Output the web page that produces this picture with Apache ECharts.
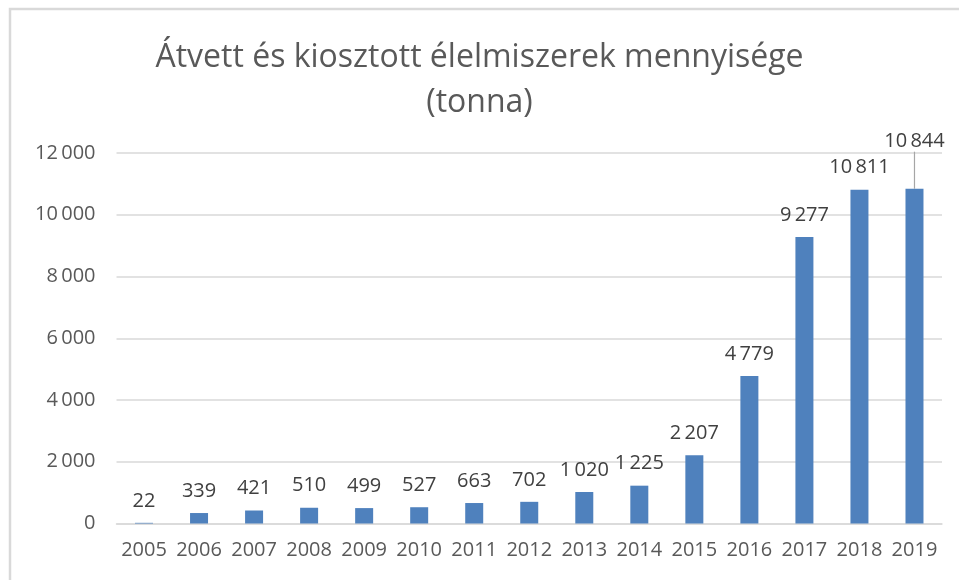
<!DOCTYPE html>
<html><head><meta charset="utf-8">
<script src="https://cdn.jsdelivr.net/npm/echarts@6/dist/echarts.min.js"></script>
<style>html,body{margin:0;padding:0;background:#fff}#c{width:959px;height:580px}</style>
</head><body><div id="c"></div>
<script>
const categories = ['2005','2006','2007','2008','2009','2010','2011','2012','2013','2014','2015','2016','2017','2018','2019'];
const values = [22,339,421,510,499,527,663,702,1020,1225,2207,4779,9277,10811,10844];
const titleLines = ['Átvett és kiosztott élelmiszerek mennyisége','(tonna)'];

const fmt = v => String(v).replace(/\B(?=(\d{3})+(?!\d))/g, '\u2009');
const FONT = 'Open Sans';
const chart = echarts.init(document.getElementById('c'));
const data = values.map((v,i) => {
  if (i === values.length - 1) {
    return { value: v, labelLine: { show: true, lineStyle: { color: '#a6a6a6', width: 1.2 } } };
  }
  return v;
});
chart.setOption({
  animation: false,
  textStyle: { fontFamily: FONT },
  graphic: [{ type: 'rect', shape: { x: 10, y: 9, width: 1000, height: 1000 }, style: { fill: 'none', stroke: '#d9d9d9', lineWidth: 2.5 }, silent: true }],
  title: {
    text: titleLines.join('\n'), left: 'center', top: 30,
    textStyle: { fontFamily: FONT, fontSize: 32, fontWeight: 'normal', color: '#595959', lineHeight: 45 }
  },
  grid: { left: 116.5, right: 17, top: 153, bottom: 56.5, containLabel: false },
  xAxis: {
    type: 'category', data: categories,
    axisTick: { show: false },
    axisLine: { lineStyle: { color: '#d9d9d9', width: 1.5 } },
    axisLabel: { color: '#595959', fontSize: 20, margin: 17, fontFamily: FONT, interval: 0 }
  },
  yAxis: {
    type: 'value', min: 0, max: 12000, interval: 2000,
    axisLine: { show: false }, axisTick: { show: false },
    splitLine: { lineStyle: { color: '#d9d9d9', width: 1.5 } },
    axisLabel: { color: '#595959', fontSize: 20, margin: 21, fontFamily: FONT, formatter: fmt }
  },
  series: [{
    type: 'bar', data: data, barWidth: 18,
    itemStyle: { color: '#4f81bd' },
    label: { show: true, position: 'top', distance: 12, color: '#404040', fontSize: 20, fontFamily: FONT, formatter: p => fmt(p.value) },
    labelLayout: p => (p.dataIndex === values.length - 1 ? { dy: -25 } : {}),
  }]
});
</script></body></html>
